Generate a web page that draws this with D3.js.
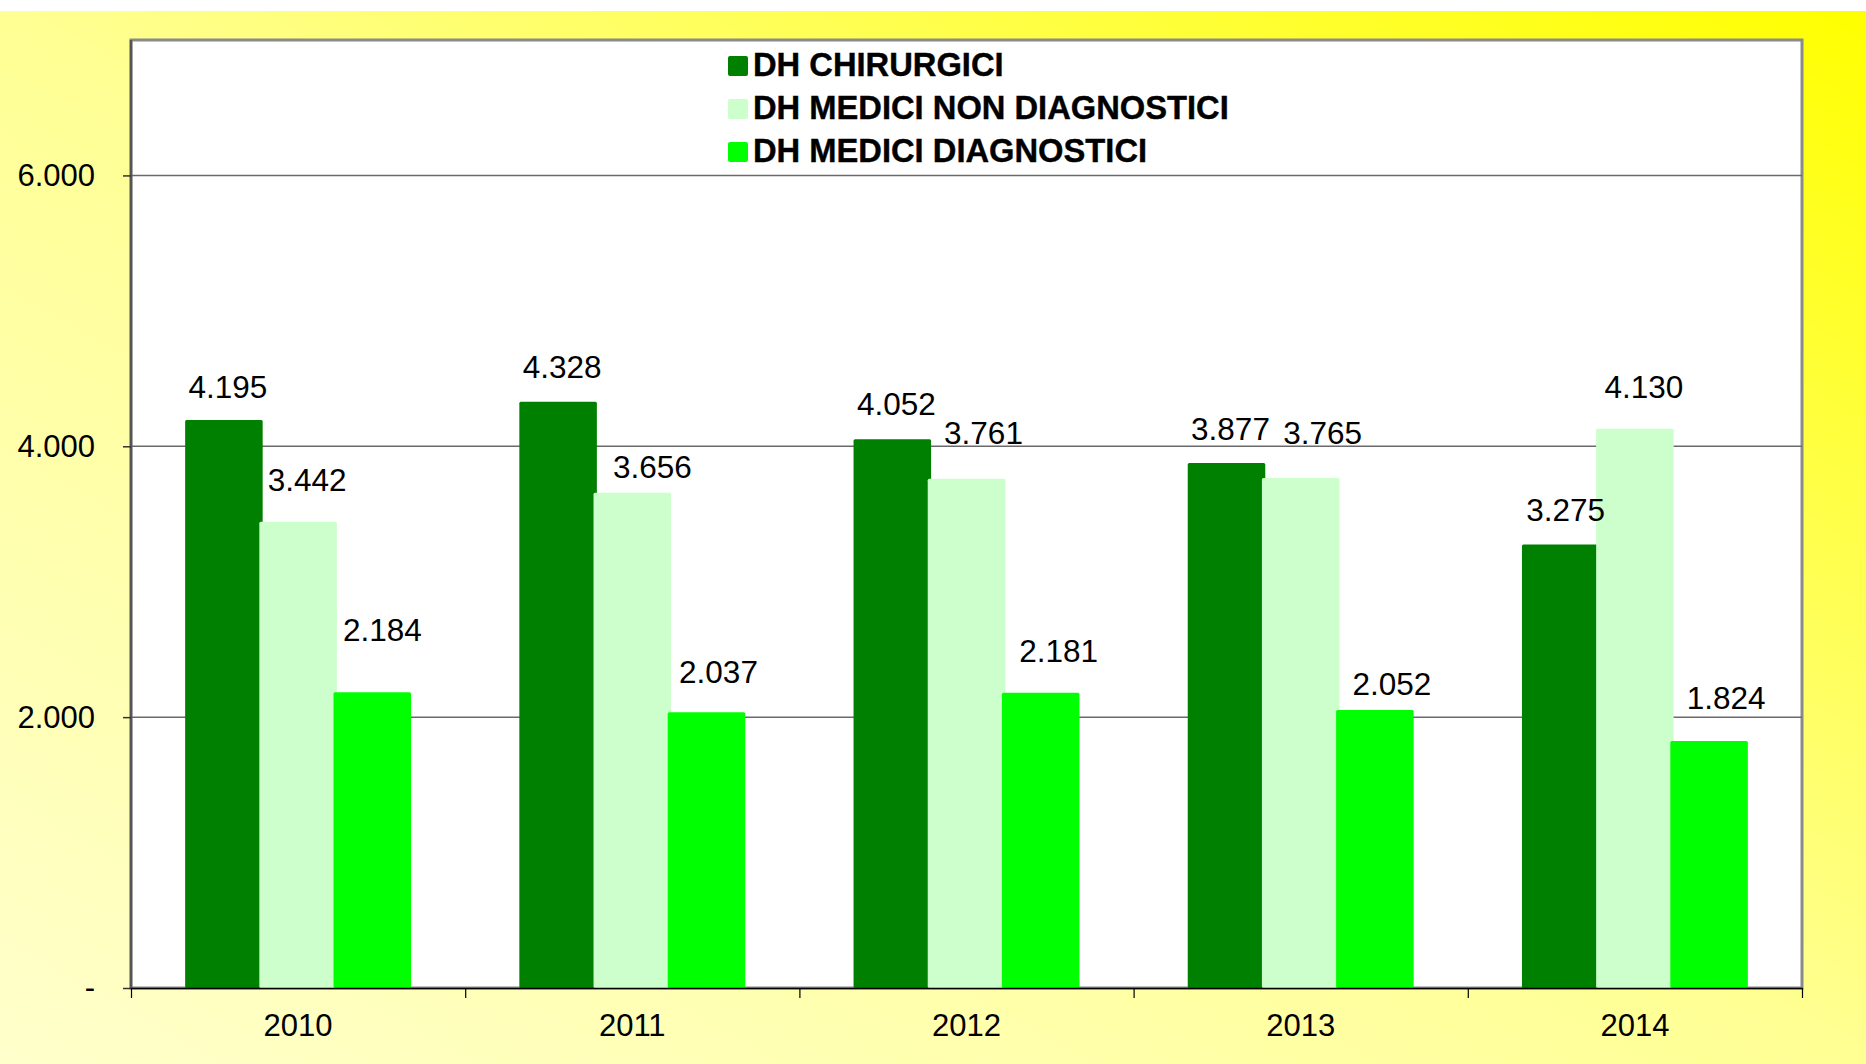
<!DOCTYPE html>
<html>
<head>
<meta charset="utf-8">
<script src="https://cdn.jsdelivr.net/npm/d3@7"></script>
<style>
  body { margin: 0; background: #fff; }
  svg { display: block; }
  text { font-family: "Liberation Sans", Arial, sans-serif; }
</style>
</head>
<body>
<svg id="chart" width="1866" height="1064"></svg>
<script>
// Day-hospital admissions by year and type
const years = ["2010", "2011", "2012", "2013", "2014"];
const seriesNames = ["DH CHIRURGICI", "DH MEDICI NON DIAGNOSTICI", "DH MEDICI DIAGNOSTICI"];
const chirurgici = [4195, 4328, 4052, 3877, 3275];
const mediciNonDiagnostici = [3442, 3656, 3761, 3765, 4130];
const mediciDiagnostici = [2184, 2037, 2181, 2052, 1824];
const yTicks = [0, 2000, 4000, 6000];

const seriesValues = [chirurgici, mediciNonDiagnostici, mediciDiagnostici];
const seriesColors = ["#008000", "#ccffcc", "#00ff00"];

// Hand-placed data labels: [shift right of bar centre, rise of baseline above bar top]
const labelNudge = [
  [[4, 22], [4, 24], [4, 24], [4, 23], [5, 23]],
  [[9, 31], [20, 15], [17, 35], [22, 34], [9, 31]],
  [[10, 51], [12, 29], [18, 31], [17, 15], [17, 32]]
];

const W = 1866, H = 1064;
const plot = { left: 131, top: 40, right: 1802, bottom: 988 };

const it = d3.formatLocale({ decimal: ",", thousands: ".", grouping: [3], currency: ["€", ""] });
const fmt = it.format(",d");
const tickFmt = v => v === 0 ? "-" : fmt(v);

const svg = d3.select("#chart");

// Page background: diagonal pale-to-bright yellow wash
const defs = svg.append("defs");
const grad = defs.append("linearGradient")
  .attr("id", "bg").attr("x1", 0).attr("y1", 1).attr("x2", 1).attr("y2", 0);
grad.append("stop").attr("offset", 0).attr("stop-color", "#ffffcc");
grad.append("stop").attr("offset", 0.5).attr("stop-color", "#ffff94");
grad.append("stop").attr("offset", 1).attr("stop-color", "#ffff00");

svg.append("rect").attr("x", 0).attr("y", 0).attr("width", W).attr("height", H).attr("fill", "#fff");
svg.append("rect").attr("x", 0).attr("y", 11).attr("width", W).attr("height", H - 11).attr("fill", "url(#bg)");

// Scales
const x = d3.scaleBand().domain(years).range([plot.left, plot.right]).paddingInner(0).paddingOuter(0);
const y = d3.scaleLinear().domain([0, 7000]).range([plot.bottom, plot.top]);
const bw = x.bandwidth();
const barWidth = bw * 0.232;
const barStep = bw * 0.222;

// Plot area
svg.append("rect")
  .attr("x", plot.left).attr("y", plot.top)
  .attr("width", plot.right - plot.left).attr("height", plot.bottom - plot.top)
  .attr("fill", "#fff").attr("stroke", "#8a8a8a").attr("stroke-width", 3);

// Horizontal gridlines
svg.append("g").selectAll("line")
  .data(yTicks.filter(d => d > 0))
  .join("line")
  .attr("x1", plot.left).attr("x2", plot.right)
  .attr("y1", d => y(d)).attr("y2", d => y(d))
  .attr("stroke", "#6a6a6a").attr("stroke-width", 1.5);

// Bars
const barData = [];
seriesValues.forEach((vals, s) => {
  vals.forEach((v, i) => barData.push({ s, i, year: years[i], value: v }));
});

const barX = d => x(d.year) + bw / 2 + (d.s - 1) * barStep - barWidth / 2;

svg.append("g").selectAll("rect")
  .data(barData)
  .join("rect")
  .attr("x", barX)
  .attr("y", d => y(d.value))
  .attr("width", barWidth)
  .attr("height", d => y(0) - y(d.value))
  .attr("rx", 1.5)
  .attr("fill", d => seriesColors[d.s]);

// Data labels
svg.append("g").selectAll("text")
  .data(barData)
  .join("text")
  .attr("x", d => barX(d) + barWidth / 2 + labelNudge[d.s][d.i][0])
  .attr("y", d => y(d.value) - labelNudge[d.s][d.i][1])
  .attr("text-anchor", "middle")
  .attr("font-size", 31.5)
  .attr("fill", "#000")
  .text(d => fmt(d.value));

// Y axis
const yAxis = svg.append("g")
  .attr("transform", `translate(${plot.left},0)`)
  .call(d3.axisLeft(y).tickValues(yTicks).tickFormat(tickFmt).tickSize(8).tickPadding(28));
yAxis.select(".domain").attr("stroke", "#555").attr("stroke-width", 2.5)
  .attr("d", `M0,${plot.top}V${plot.bottom}`);
yAxis.selectAll(".tick line").attr("stroke", "#333").attr("stroke-width", 1.5);
yAxis.selectAll(".tick text")
  .attr("font-size", 31).attr("fill", "#000")
  .attr("font-family", "'Liberation Sans', Arial, sans-serif");

// X axis: boundary ticks + centred year labels
const xb = d3.scaleLinear().domain([0, years.length]).range([plot.left, plot.right]);
const xAxis = svg.append("g")
  .attr("transform", `translate(0,${plot.bottom})`)
  .call(d3.axisBottom(xb).tickValues(d3.range(years.length + 1))
    .tickFormat("").tickSize(10).tickSizeOuter(0));
xAxis.select(".domain").attr("stroke", "#000").attr("stroke-width", 1.5);
xAxis.selectAll(".tick line").attr("stroke", "#000").attr("stroke-width", 1.2);

svg.append("g").selectAll("text")
  .data(years)
  .join("text")
  .attr("x", d => x(d) + bw / 2)
  .attr("y", 1036)
  .attr("text-anchor", "middle")
  .attr("font-size", 31)
  .attr("fill", "#000")
  .text(d => d);

// Legend
const legend = svg.append("g").attr("transform", "translate(728,0)");
const rowBase = [76, 119, 162];
seriesNames.forEach((name, s) => {
  legend.append("rect")
    .attr("x", 0).attr("y", rowBase[s] - 20)
    .attr("width", 20).attr("height", 20).attr("rx", 2)
    .attr("fill", seriesColors[s]);
  legend.append("text")
    .attr("x", 25).attr("y", rowBase[s])
    .attr("font-size", 32.7).attr("font-weight", "bold")
    .attr("fill", "#000")
    .attr("stroke", "#000").attr("stroke-width", 0.4)
    .text(name);
});
</script>
</body>
</html>
